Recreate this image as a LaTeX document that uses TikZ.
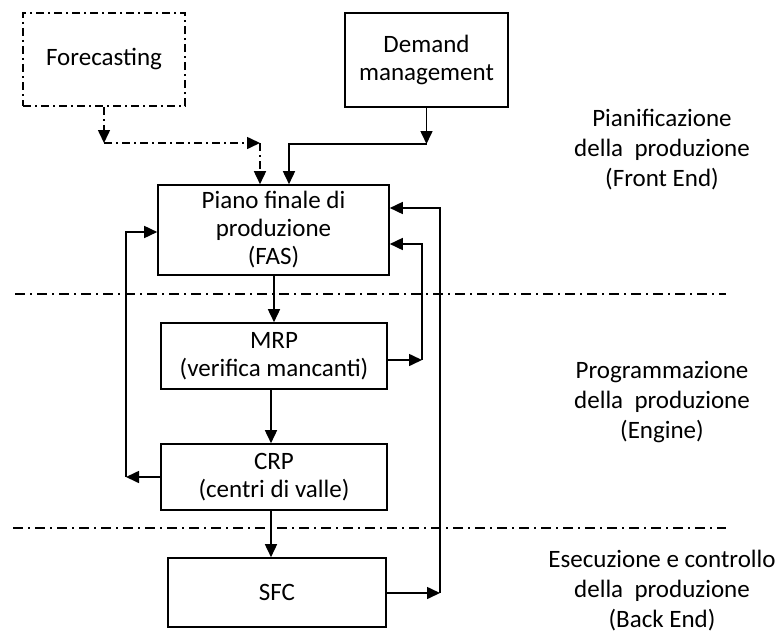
\documentclass[tikz,border=0pt]{standalone}
\usepackage{fontspec}
\setmainfont{Carlito}
\usetikzlibrary{arrows.meta}
\begin{document}
\begin{tikzpicture}[x=0.5pt,y=-0.5pt,
  every node/.style={font=\fontsize{12.5}{14}\selectfont, align=center, inner sep=0pt},
  box/.style={draw, line width=0.8pt, rectangle},
  arr/.style={line width=0.8pt, -{Triangle[length=6.5pt,width=6pt]}},
  dashdot/.style={line width=0.8pt, dash pattern=on 4pt off 2pt on 1pt off 2pt},
  divider/.style={line width=0.7pt, dash pattern=on 5pt off 2.5pt on 1pt off 2.5pt},
  label/.style={font=\fontsize{12.5}{15}\selectfont, align=center}]
\useasboundingbox (0,0) rectangle (777,637);

% boxes
\node[box, dashdot, minimum width=81pt, minimum height=46.5pt] (fc) at (104,59.5) {Forecasting};
\node[box, minimum width=81.5pt, minimum height=47pt] (dm) at (426.5,60) {Demand\\management};
\node[box, minimum width=115.5pt, minimum height=45pt] (fas) at (273.5,230) {Piano finale di\\produzione\\(FAS)};
\node[box, minimum width=113pt, minimum height=33pt] (mrp) at (274,356) {MRP\\(verifica mancanti)};
\node[box, minimum width=113pt, minimum height=33pt] (crp) at (274,477) {CRP\\(centri di valle)};
\node[box, minimum width=109pt, minimum height=34.5pt] (sfc) at (277,592.5) {SFC};

% phase labels
\node[label] (l1) at (662,150) {Pianificazione\\della~ produzione\\(Front End)};
\node[label] (l2) at (662,402) {Programmazione\\della~ produzione\\(Engine)};
\node[label] (l3) at (662,591) {Esecuzione e controllo\\della~ produzione\\(Back End)};

% phase dividers
\coordinate (da) at (15,294);
\coordinate (db) at (726,294);
\coordinate (dc) at (13,528);
\coordinate (dd) at (726,528);
\draw[divider] (da) -- (db);
\draw[divider] (dc) -- (dd);

% forecasting path
\coordinate (f1) at (104,143);
\coordinate (f2) at (260,143);
\draw[arr, dashdot] (fc.south) -- (f1);
\draw[arr, dashdot] (f1) -- (f2);
\draw[arr, dashdot] (f2) -- (f2 |- fas.north);

% demand management path
\coordinate (d1) at (426.5,144);
\coordinate (d2) at (289,144);
\draw[arr] (dm.south) -- (d1);
\draw[arr] (d1) -- (d2) -- (d2 |- fas.north);

% main chain
\coordinate (c1) at (274,0);
\coordinate (c2) at (271,0);
\draw[arr] (fas.south -| c1) -- (mrp.north -| c1);
\draw[arr] (mrp.south -| c2) -- (crp.north -| c2);
\draw[arr] (crp.south -| c2) -- (sfc.north -| c2);

% MRP feedback
\coordinate (r1) at (422,360);
\coordinate (r2) at (422,244);
\draw[arr] (mrp.east |- r1) -- (r1);
\draw[arr] (r1) -- (r2) -- (fas.east |- r2);

% SFC feedback
\coordinate (r3) at (440,593);
\coordinate (r4) at (440,208);
\draw[arr] (sfc.east |- r3) -- (r3);
\draw[arr] (r3) -- (r4) -- (fas.east |- r4);

% CRP feedback
\coordinate (k1) at (126,477);
\coordinate (k2) at (126,232);
\draw[arr] (crp.west) -- (k1);
\draw[arr] (k1) -- (k2) -- (fas.west |- k2);
\end{tikzpicture}
\end{document}
